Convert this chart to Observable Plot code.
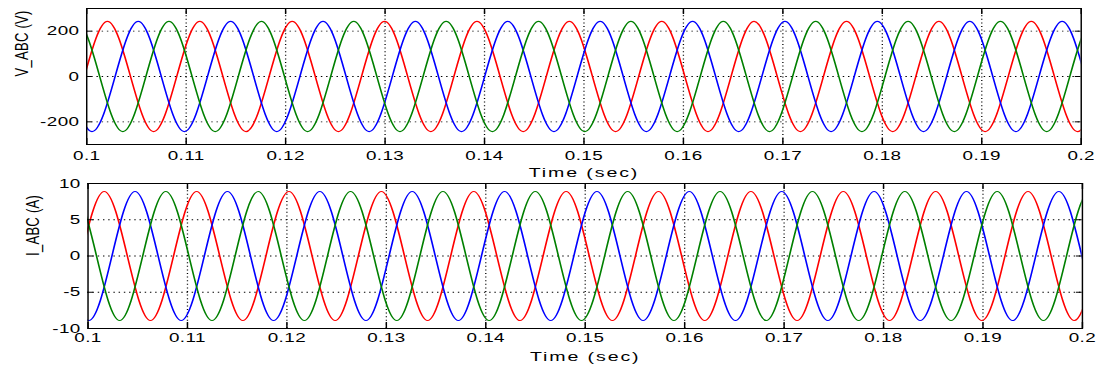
<!DOCTYPE html>
<html><head><meta charset="utf-8">
<script src="https://cdn.jsdelivr.net/npm/d3@7"></script>
<script src="https://cdn.jsdelivr.net/npm/@observablehq/plot@0.6"></script>
<style>
body{margin:0;background:#fff;}
#wrap{position:relative;width:1096px;height:369px;overflow:hidden;background:#fff;}
#wrap svg{position:absolute;left:0;}
</style></head><body><div id="wrap"></div>
<script>
// ---- tick values / labels ----
const xTicks = [0.1, 0.11, 0.12, 0.13, 0.14, 0.15, 0.16, 0.17, 0.18, 0.19, 0.2];
const xTickLabels = ["0.1", "0.11", "0.12", "0.13", "0.14", "0.15", "0.16", "0.17", "0.18", "0.19", "0.2"];
const xGrid = [0.11, 0.12, 0.13, 0.14, 0.15, 0.16, 0.17, 0.18, 0.19];
const vTicks = [-200, 0, 200];
const vTickLabels = ["-200", "0", "200"];
const vGrid = [-200, 0, 200];
const iTicks = [-10, -5, 0, 5, 10];
const iTickLabels = ["-10", "-5", "0", "5", "10"];
const iGrid = [-5, 0, 5];

// ---- voltage: times of each phase's peaks/troughs (s) and values (V) ----
const vATimes = [0.09279, 0.09744, 0.10208, 0.10673, 0.11137, 0.11602, 0.12066, 0.12531, 0.12995, 0.13460, 0.13924, 0.14389, 0.14853, 0.15318, 0.15782, 0.16247, 0.16711, 0.17176, 0.17640, 0.18105, 0.18569, 0.19034, 0.19498, 0.19963, 0.20427, 0.20892];
const vAValues = [243, -243, 243, -243, 243, -243, 243, -243, 243, -243, 243, -243, 243, -243, 243, -243, 243, -243, 243, -243, 243, -243, 243, -243, 243, -243];
const vBTimes = [0.09124, 0.09589, 0.10053, 0.10518, 0.10982, 0.11447, 0.11911, 0.12376, 0.12840, 0.13305, 0.13769, 0.14234, 0.14698, 0.15163, 0.15627, 0.16092, 0.16556, 0.17021, 0.17485, 0.17950, 0.18414, 0.18879, 0.19343, 0.19808, 0.20272, 0.20737];
const vBValues = [-243, 243, -243, 243, -243, 243, -243, 243, -243, 243, -243, 243, -243, 243, -243, 243, -243, 243, -243, 243, -243, 243, -243, 243, -243, 243];
const vCTimes = [0.09434, 0.09898, 0.10363, 0.10827, 0.11292, 0.11756, 0.12221, 0.12685, 0.13150, 0.13614, 0.14079, 0.14543, 0.15008, 0.15472, 0.15937, 0.16401, 0.16866, 0.17330, 0.17795, 0.18259, 0.18724, 0.19188, 0.19653, 0.20117, 0.20582];
const vCValues = [-243, 243, -243, 243, -243, 243, -243, 243, -243, 243, -243, 243, -243, 243, -243, 243, -243, 243, -243, 243, -243, 243, -243, 243, -243];

// ---- current: times of each phase's peaks/troughs (s) and values (A) ----
const iATimes = [0.09234, 0.09699, 0.10163, 0.10628, 0.11092, 0.11557, 0.12021, 0.12486, 0.12950, 0.13415, 0.13879, 0.14344, 0.14808, 0.15273, 0.15737, 0.16202, 0.16666, 0.17131, 0.17595, 0.18060, 0.18524, 0.18989, 0.19453, 0.19918, 0.20382, 0.20847];
const iAValues = [8.9, -8.9, 8.9, -8.9, 8.9, -8.9, 8.9, -8.9, 8.9, -8.9, 8.9, -8.9, 8.9, -8.9, 8.9, -8.9, 8.9, -8.9, 8.9, -8.9, 8.9, -8.9, 8.9, -8.9, 8.9, -8.9];
const iBTimes = [0.09079, 0.09544, 0.10008, 0.10473, 0.10937, 0.11402, 0.11866, 0.12331, 0.12795, 0.13260, 0.13724, 0.14189, 0.14653, 0.15118, 0.15582, 0.16047, 0.16511, 0.16976, 0.17440, 0.17905, 0.18369, 0.18834, 0.19298, 0.19763, 0.20227, 0.20692];
const iBValues = [-8.9, 8.9, -8.9, 8.9, -8.9, 8.9, -8.9, 8.9, -8.9, 8.9, -8.9, 8.9, -8.9, 8.9, -8.9, 8.9, -8.9, 8.9, -8.9, 8.9, -8.9, 8.9, -8.9, 8.9, -8.9, 8.9];
const iCTimes = [0.09389, 0.09853, 0.10318, 0.10782, 0.11247, 0.11711, 0.12176, 0.12640, 0.13105, 0.13569, 0.14034, 0.14498, 0.14963, 0.15427, 0.15892, 0.16356, 0.16821, 0.17285, 0.17750, 0.18214, 0.18679, 0.19143, 0.19608, 0.20072, 0.20537];
const iCValues = [-8.9, 8.9, -8.9, 8.9, -8.9, 8.9, -8.9, 8.9, -8.9, 8.9, -8.9, 8.9, -8.9, 8.9, -8.9, 8.9, -8.9, 8.9, -8.9, 8.9, -8.9, 8.9, -8.9, 8.9, -8.9];

const phaseColors = ["#ff0000", "#0000ff", "#008000"];

// The original figure is stretched horizontally; draw narrow then stretch.
const OUT_W = 1096;
const NATIVE_W = 756;
const S = OUT_W / NATIVE_W;

const pts = (ts, vs) => ts.map((t, i) => ({t, v: vs[i]}));
const fmt = (ticks, labels) => d => labels[ticks.findIndex(v => Math.abs(v - d) < 1e-9)];

function panel(o) {
  const frameW = NATIVE_W - o.mLeft - o.mRight;
  const frameH = o.height - o.mTop - o.mBottom;
  const dotted = {stroke: "black", strokeWidth: 0.9, strokeDasharray: "1,2.6"};
  const marks = [
    Plot.ruleX(xGrid, dotted),
    Plot.ruleY(o.yGrid, dotted),
    ...o.series.map((s, k) => Plot.line(s, {x: "t", y: "v", stroke: phaseColors[k], strokeWidth: 1.15, curve: "monotone-x", clip: true})),
    Plot.tickY(o.yTicks, {y: d => d, stroke: "black", insetRight: frameW - 4}),
    Plot.tickY(o.yTicks, {y: d => d, stroke: "black", insetLeft: frameW - 4}),
    Plot.tickX(xTicks, {x: d => d, stroke: "black", insetBottom: frameH - 6}),
    Plot.tickX(xTicks, {x: d => d, stroke: "black", insetTop: frameH - 6}),
    Plot.frame({stroke: "black", strokeWidth: 1}),
    Plot.text([o.yLabel], {frameAnchor: "left", text: d => d, rotate: -90, dx: o.labelDx, fill: "black", fontSize: 13}),
    Plot.text(["Time (sec)"], {frameAnchor: "bottom", text: d => d, dy: 28.5, lineAnchor: "middle", fill: "black", fontSize: 13.5})
  ];
  const svg = Plot.plot({
    width: NATIVE_W,
    height: o.height,
    marginTop: o.mTop, marginBottom: o.mBottom, marginLeft: o.mLeft, marginRight: o.mRight,
    style: {fontFamily: "'Liberation Sans', Arial, sans-serif", fontSize: "13px", letterSpacing: "0.3px", background: "transparent", color: "black", overflow: "visible"},
    x: {domain: [0.1, 0.2], ticks: xTicks, tickFormat: fmt(xTicks, xTickLabels), tickSize: 0, tickPadding: o.xPad, label: null},
    y: {domain: o.yDomain, ticks: o.yTicks, tickFormat: fmt(o.yTicks, o.yTickLabels), tickSize: 0, tickPadding: 5, label: null},
    marks
  });
  svg.querySelectorAll("text").forEach(t => {
    if (t.textContent === "Time (sec)") t.style.letterSpacing = "1.3px";
  });
  svg.setAttribute("width", OUT_W);
  svg.setAttribute("height", o.height);
  svg.setAttribute("preserveAspectRatio", "none");
  svg.style.width = OUT_W + "px";
  svg.style.height = o.height + "px";
  svg.style.maxWidth = "none";
  svg.style.top = o.top + "px";
  document.getElementById("wrap").appendChild(svg);
}

panel({
  top: 0, height: 182, mTop: 8, mBottom: 38, mLeft: 86 / S, mRight: 15.5 / S,
  yDomain: [-300, 300], yTicks: vTicks, yTickLabels: vTickLabels, yGrid: vGrid,
  yLabel: "V_ABC (V)", labelDx: 14.5 - 86 / S, xPad: 6,
  series: [pts(vATimes, vAValues), pts(vBTimes, vBValues), pts(vCTimes, vCValues)]
});
panel({
  top: 170, height: 199, mTop: 13, mBottom: 41, mLeft: 87.3 / S, mRight: 14.3 / S,
  yDomain: [-10, 10], yTicks: iTicks, yTickLabels: iTickLabels, yGrid: iGrid,
  yLabel: "I_ABC (A)", labelDx: 22.4 - 87.3 / S, xPad: 4,
  series: [pts(iATimes, iAValues), pts(iBTimes, iBValues), pts(iCTimes, iCValues)]
});
</script></body></html>
